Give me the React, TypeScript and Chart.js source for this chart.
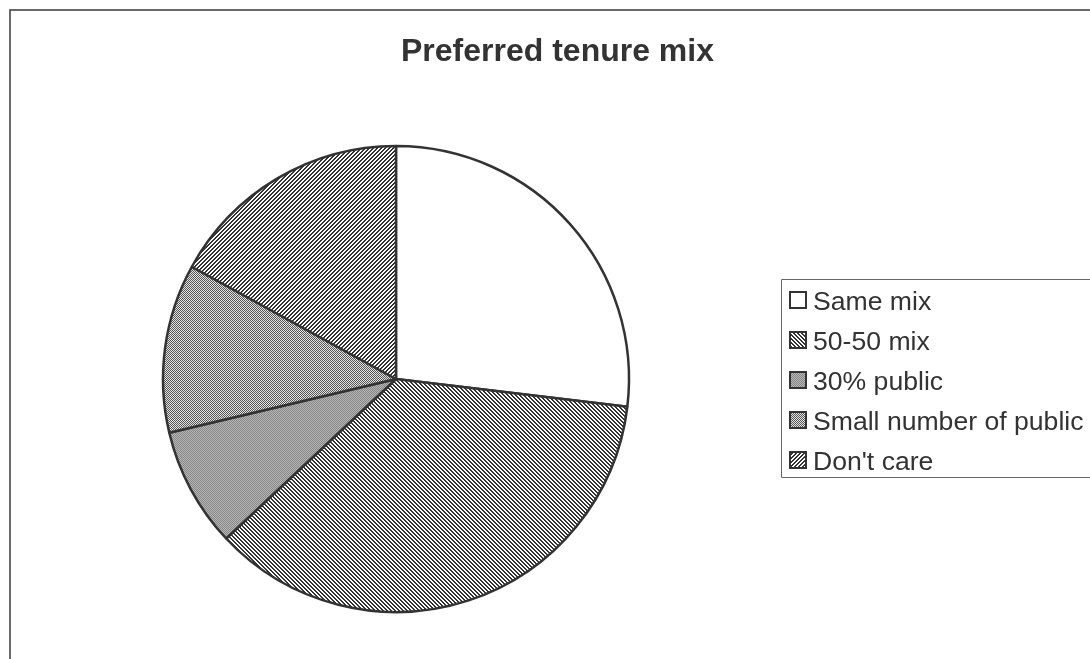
import React, { useEffect, useRef } from "react";
import { Chart, registerables } from "chart.js";

Chart.register(...registerables);

const categories = ["Same mix", "50-50 mix", "30% public", "Small number of public", "Don't care"];
const shares = [26.9, 36.1, 8.3, 11.7, 17.0];
const chartTitle = "Preferred tenure mix";

const CANVAS_W = 1115;
const CANVAS_H = 659;
const FONT = "'Liberation Sans', Arial, Helvetica, sans-serif";

function makePattern(
  ctx: CanvasRenderingContext2D,
  size: number,
  fn: (x: number, y: number) => string
): CanvasPattern | string {
  const tile = document.createElement("canvas");
  tile.width = size;
  tile.height = size;
  const g = tile.getContext("2d")!;
  for (let y = 0; y < size; y++) {
    for (let x = 0; x < size; x++) {
      g.fillStyle = fn(x, y);
      g.fillRect(x, y, 1, 1);
    }
  }
  return ctx.createPattern(tile, "repeat") || "#999";
}

const decorPlugin = {
  id: "decor",
  afterDraw(chart: any) {
    const ctx: CanvasRenderingContext2D = chart.ctx;
    ctx.save();
    // outer frame (extends beyond the visible area)
    ctx.strokeStyle = "#3a3a3a";
    ctx.lineWidth = 1.5;
    ctx.beginPath();
    ctx.moveTo(10, CANVAS_H + 10);
    ctx.lineTo(10, 10);
    ctx.lineTo(CANVAS_W + 10, 10);
    ctx.stroke();

    // title
    ctx.fillStyle = "#333333";
    ctx.font = `bold 32px ${FONT}`;
    ctx.textAlign = "center";
    ctx.textBaseline = "alphabetic";
    ctx.fillText(chartTitle, 557.5, 61);

    // legend box
    const left = 781.5;
    const top = 279.5;
    const bottom = 477.5;
    ctx.strokeStyle = "#666666";
    ctx.lineWidth = 1;
    ctx.beginPath();
    ctx.moveTo(CANVAS_W + 10, top);
    ctx.lineTo(left, top);
    ctx.lineTo(left, bottom);
    ctx.lineTo(CANVAS_W + 10, bottom);
    ctx.stroke();

    const labels: string[] = chart.data.labels;
    const colors = chart.data.datasets[0].backgroundColor;
    ctx.font = `26.6px ${FONT}`;
    ctx.textAlign = "left";
    labels.forEach((lab, i) => {
      const cy = 300 + i * 40;
      const sx = 790;
      const sz = 16;
      ctx.fillStyle = colors[i];
      ctx.fillRect(sx, cy - sz / 2, sz, sz);
      ctx.strokeStyle = "#333333";
      ctx.lineWidth = 2;
      ctx.strokeRect(sx, cy - sz / 2, sz, sz);
      ctx.fillStyle = "#333333";
      ctx.fillText(lab, 813, cy + 9.5);
    });
    ctx.restore();
  },
};

export default function App() {
  const ref = useRef<HTMLCanvasElement | null>(null);

  useEffect(() => {
    const canvas = ref.current;
    if (!canvas) return;
    const ctx = canvas.getContext("2d")!;
    const dark = "#333333";
    const white = "#ffffff";
    const fills = [
      white,
      makePattern(ctx, 4, (x, y) => ((((x - y) % 4) + 4) % 4 < 2 ? dark : white)),
      makePattern(ctx, 2, (x, y) => ((x + y) % 2 === 0 ? "#858585" : "#b8b8b8")),
      makePattern(ctx, 2, (x, y) => ((x + y) % 2 === 0 ? "#555555" : "#e4e4e4")),
      makePattern(ctx, 4, (x, y) => ((x + y) % 4 < 2 ? dark : white)),
    ];

    const chart = new Chart(canvas, {
      type: "pie",
      data: {
        labels: categories,
        datasets: [
          {
            data: shares,
            backgroundColor: fills as any,
            borderColor: "#333333",
            borderWidth: 2.5,
            hoverOffset: 0,
          },
        ],
      },
      options: {
        responsive: false,
        animation: false,
        radius: 233,
        layout: { padding: { left: 163, right: CANVAS_W - 629, top: 146, bottom: CANVAS_H - 612 } },
        plugins: {
          legend: { display: false },
          title: { display: false },
          tooltip: { enabled: false },
        },
        events: [],
      } as any,
      plugins: [decorPlugin],
    });
    return () => chart.destroy();
  }, []);

  return (
    <div
      style={{
        position: "fixed",
        left: 0,
        top: 0,
        width: 1090,
        height: 659,
        overflow: "hidden",
        background: "#ffffff",
      }}
    >
      <canvas
        ref={ref}
        width={CANVAS_W}
        height={CANVAS_H}
        style={{ position: "absolute", left: 0, top: 0, width: CANVAS_W, height: CANVAS_H }}
      />
    </div>
  );
}
